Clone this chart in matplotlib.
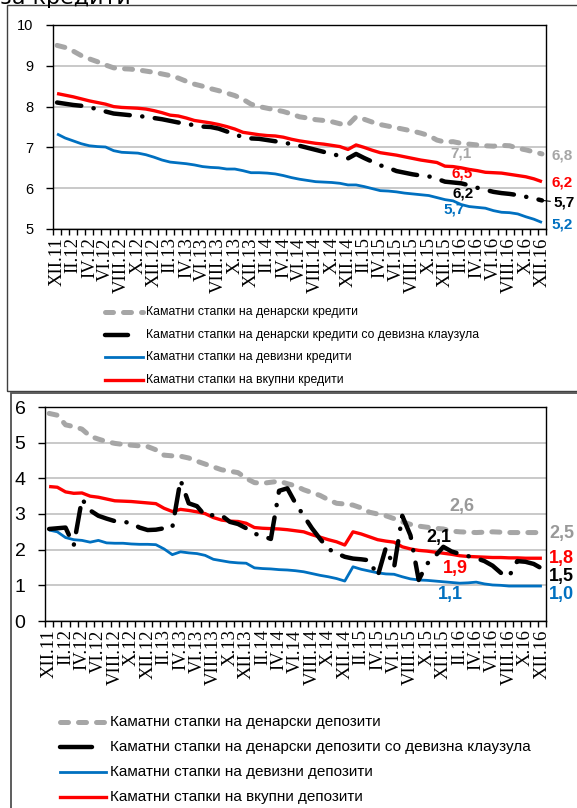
import matplotlib
matplotlib.use("Agg")
import matplotlib.pyplot as plt
from matplotlib.lines import Line2D
from matplotlib.patches import Rectangle
import numpy as np

W, H = 577, 808

tick_labels = ["XII.11", "II.12", "IV.12", "VI.12", "VIII.12", "X.12",
               "XII.12", "II.13", "IV.13", "VI.13", "VIII.13", "X.13",
               "XII.13", "II.14", "IV.14", "VI.14", "VIII.14", "X.14",
               "XII.14", "II.15", "IV.15", "VI.15", "VIII.15", "X.15",
               "XII.15", "II.16", "IV.16", "VI.16", "VIII.16", "X.16",
               "XII.16"]

# кредити (месечно XII.11 - XII.16)
cred_denar = [9.50, 9.45, 9.36, 9.25, 9.17, 9.10, 9.02, 8.95, 8.93, 8.92,
              8.90, 8.87, 8.84, 8.80, 8.76, 8.70, 8.62, 8.55, 8.50, 8.44,
              8.39, 8.33, 8.27, 8.18, 8.06, 8.00, 7.96, 7.92, 7.88, 7.82,
              7.75, 7.72, 7.68, 7.66, 7.63, 7.58, 7.55, 7.75, 7.69, 7.62,
              7.56, 7.52, 7.48, 7.44, 7.40, 7.35, 7.29, 7.18, 7.13, 7.14,
              7.10, 7.08, 7.06, 7.04, 7.03, 7.05, 7.04, 6.98, 6.94, 6.89,
              6.84]
cred_denar_fx = [8.10, 8.07, 8.04, 8.02, 7.98, 7.94, 7.88, 7.83, 7.81, 7.79,
                 7.77, 7.75, 7.72, 7.69, 7.65, 7.61, 7.58, 7.54, 7.51, 7.50,
                 7.46, 7.39, 7.32, 7.25, 7.22, 7.21, 7.18, 7.15, 7.12, 7.08,
                 7.04, 6.99, 6.94, 6.89, 6.84, 6.79, 6.73, 6.84, 6.74, 6.65,
                 6.56, 6.50, 6.42, 6.38, 6.34, 6.31, 6.29, 6.23, 6.16, 6.14,
                 6.12, 6.07, 6.01, 5.96, 5.91, 5.88, 5.86, 5.83, 5.79, 5.75,
                 5.70]
cred_fx = [7.33, 7.23, 7.16, 7.09, 7.04, 7.02, 7.01, 6.92, 6.88, 6.87,
           6.86, 6.82, 6.76, 6.69, 6.64, 6.62, 6.60, 6.57, 6.53, 6.51,
           6.50, 6.47, 6.47, 6.43, 6.38, 6.38, 6.37, 6.35, 6.31, 6.26,
           6.22, 6.19, 6.16, 6.15, 6.14, 6.12, 6.08, 6.08, 6.04, 5.99,
           5.94, 5.93, 5.91, 5.88, 5.86, 5.84, 5.82, 5.77, 5.72, 5.69,
           5.60, 5.55, 5.53, 5.51, 5.45, 5.41, 5.40, 5.37, 5.30, 5.24,
           5.16]
cred_total = [8.32, 8.28, 8.24, 8.19, 8.14, 8.10, 8.06, 8.00, 7.98, 7.97,
              7.96, 7.94, 7.90, 7.85, 7.79, 7.77, 7.72, 7.66, 7.63, 7.60,
              7.56, 7.51, 7.45, 7.37, 7.34, 7.31, 7.29, 7.28, 7.25, 7.20,
              7.16, 7.13, 7.10, 7.08, 7.05, 7.02, 6.95, 7.06, 7.00, 6.93,
              6.87, 6.84, 6.81, 6.77, 6.73, 6.69, 6.66, 6.63, 6.54, 6.53,
              6.50, 6.46, 6.43, 6.39, 6.38, 6.37, 6.34, 6.31, 6.28, 6.23,
              6.16]

# депозити
dep_denar = [5.82, 5.77, 5.50, 5.45, 5.38, 5.18, 5.10, 5.03, 4.98, 4.95,
             4.93, 4.91, 4.89, 4.80, 4.65, 4.63, 4.62, 4.57, 4.48, 4.40,
             4.32, 4.24, 4.20, 4.16, 4.00, 3.88, 3.86, 3.89, 3.92, 3.85,
             3.79, 3.68, 3.60, 3.52, 3.40, 3.30, 3.28, 3.25, 3.17, 3.05,
             3.00, 2.95, 2.87, 2.78, 2.71, 2.66, 2.63, 2.60, 2.58, 2.52,
             2.50, 2.49, 2.48, 2.49, 2.50, 2.49, 2.48, 2.48, 2.48, 2.48,
             2.48]
dep_denar_fx = [2.58, 2.60, 2.62, 2.12, 3.42, 3.10, 2.95, 2.87, 2.80, 2.78,
                2.75, 2.62, 2.55, 2.56, 2.60, 2.62, 3.95, 3.30, 3.22, 2.95,
                2.97, 2.96, 2.78, 2.72, 2.60, 2.45, 2.38, 2.30, 3.65, 3.72,
                3.30, 2.95, 2.60, 2.30, 2.02, 1.90, 1.80, 1.75, 1.73, 1.70,
                1.25, 2.05, 1.50, 2.95, 2.40, 1.15, 1.60, 1.82, 2.08, 1.95,
                1.88, 1.82, 1.76, 1.68, 1.55, 1.35, 1.25, 1.68, 1.66, 1.60,
                1.47]
dep_fx = [2.55, 2.50, 2.34, 2.28, 2.26, 2.21, 2.26, 2.19, 2.18, 2.18,
          2.16, 2.15, 2.15, 2.14, 2.02, 1.86, 1.94, 1.91, 1.89, 1.84,
          1.73, 1.69, 1.65, 1.63, 1.62, 1.49, 1.47, 1.46, 1.44, 1.43,
          1.41, 1.38, 1.33, 1.28, 1.24, 1.19, 1.12, 1.52, 1.45, 1.40,
          1.35, 1.32, 1.31, 1.24, 1.18, 1.15, 1.14, 1.12, 1.10, 1.08,
          1.06, 1.07, 1.09, 1.04, 1.01, 1.00, 0.98, 0.98, 0.98, 0.98,
          0.98]
dep_total = [3.77, 3.75, 3.62, 3.58, 3.59, 3.50, 3.47, 3.42, 3.37, 3.36,
             3.35, 3.33, 3.31, 3.29, 3.16, 3.07, 3.13, 3.10, 3.06, 3.01,
             2.90, 2.83, 2.80, 2.79, 2.74, 2.62, 2.60, 2.59, 2.58, 2.56,
             2.53, 2.50, 2.42, 2.35, 2.28, 2.22, 2.13, 2.50, 2.44, 2.36,
             2.28, 2.24, 2.21, 2.08, 2.02, 1.98, 1.96, 1.93, 1.90, 1.87,
             1.83, 1.81, 1.80, 1.79, 1.78, 1.78, 1.77, 1.77, 1.76, 1.76,
             1.76]

cred_names = ["Каматни стапки на денарски кредити",
              "Каматни стапки на денарски кредити со девизна клаузула",
              "Каматни стапки на девизни кредити",
              "Каматни стапки на вкупни кредити"]
dep_names = ["Каматни стапки на денарски депозити",
             "Каматни стапки на денарски депозити со девизна клаузула",
             "Каматни стапки на девизни депозити",
             "Каматни стапки на вкупни депозити"]

GRAY, BLUE, RED = "#A6A6A6", "#0070C0", "#FF0000"
styles = [
    dict(color=GRAY, lw=3.6, ls=(0, (1.6, 2.0)), dash_capstyle="round", zorder=3),
    dict(color="black", lw=3.2, ls=(0, (5.5, 2.8, 0.05, 2.8)), dash_capstyle="round", zorder=6),
    dict(color=BLUE, lw=2.0, ls="-", zorder=4),
    dict(color=RED, lw=2.4, ls="-", zorder=5),
]


def fx(px):
    return px / W


def fy(py):
    return 1 - py / H


fig = plt.figure(figsize=(W / 100, H / 100), dpi=100)

# рамки
fig.add_artist(Rectangle((fx(7), fy(391)), 1, fy(5) - fy(391), transform=fig.transFigure,
                         fill=False, ec="#404040", lw=1.0))
fig.add_artist(Rectangle((fx(11), -0.1), 1, fy(393) + 0.1, transform=fig.transFigure,
                         fill=False, ec="#505050", lw=1.3))
fig.text(0.0, fy(4), "за кредити", fontsize=16, va="baseline", ha="left")

ax1 = fig.add_axes([fx(53), fy(229), (546 - 53) / W, (229 - 25) / H])
ax2 = fig.add_axes([fx(45), fy(621), (546 - 45) / W, (621 - 407) / H])

x = np.arange(len(cred_denar))


def setup(ax, ylim, ysize, ypad, xsize):
    ax.set_xlim(-0.5, 60.5)
    ax.set_ylim(*ylim)
    ax.set_yticks(np.arange(ylim[0], ylim[1] + 1))
    ax.tick_params(axis="y", length=5, width=1, pad=ypad, labelsize=ysize)
    for lb in ax.get_yticklabels():
        lb.set_fontfamily("Liberation Sans")
    ax.set_xticks(np.arange(0, 61, 2))
    ax.set_xticklabels(tick_labels, rotation=90, fontfamily="Liberation Serif", fontsize=xsize)
    ax.set_xticks(np.arange(-0.5, 61, 1), minor=True)
    ax.tick_params(axis="x", which="major", length=0, pad=6)
    ax.tick_params(axis="x", which="minor", length=4, width=1)
    ax.yaxis.grid(True, color="#C0C0C0", lw=1.2)
    ax.set_axisbelow(True)
    for s in ax.spines.values():
        s.set_color("black")
        s.set_linewidth(1.0)


setup(ax1, (5, 10), 10.5, 9, 13.5)
setup(ax2, (0, 6), 14, 9, 13.5)

for data, st in zip([cred_denar, cred_denar_fx, cred_fx, cred_total], styles):
    ax1.plot(x, data, solid_capstyle="butt", **st)
for data, st in zip([dep_denar, dep_denar_fx, dep_fx, dep_total], styles):
    ax2.plot(x, data, solid_capstyle="butt", **st)

# ознаки на вредности
lab = dict(fontfamily="Liberation Sans", fontweight="bold", ha="center", va="center", clip_on=False)
ax1.text(50.0, 6.86, "7,1", color=GRAY, fontsize=11, **lab)
ax1.text(50.1, 6.35, "6,5", color=RED, fontsize=11, **lab)
ax1.text(50.2, 5.88, "6,2", color="black", fontsize=11, **lab)
ax1.text(49.1, 5.49, "5,7", color=BLUE, fontsize=11, **lab)
ax1.text(62.5, 6.81, "6,8", color=GRAY, fontsize=11, **lab)
ax1.text(62.5, 6.15, "6,2", color=RED, fontsize=11, **lab)
ax1.annotate("5,7", xy=(60.1, cred_denar_fx[-1]), xytext=(62.7, 5.64), color="black",
             fontsize=11, arrowprops=dict(arrowstyle="-", color="black", lw=0.8,
                                          shrinkA=0, shrinkB=0), **lab)
ax1.text(62.5, 5.12, "5,2", color=BLUE, fontsize=11, **lab)

ax2.text(50.2, 3.20, "2,6", color="#999999", fontsize=13, **lab)
ax2.text(47.5, 2.35, "2,1", color="black", fontsize=13, **lab)
ax2.text(49.5, 1.46, "1,9", color=RED, fontsize=13, **lab)
ax2.text(48.8, 0.73, "1,1", color=BLUE, fontsize=13, **lab)
ax2.text(62.4, 2.44, "2,5", color="#999999", fontsize=13, **lab)
ax2.text(62.4, 1.74, "1,8", color=RED, fontsize=13, **lab)
ax2.text(62.4, 1.26, "1,5", color="black", fontsize=13, **lab)
ax2.text(62.4, 0.73, "1,0", color=BLUE, fontsize=13, **lab)


def legend(names, ys, x0, x1, xblack, xt, size):
    for k, (name, y, st) in enumerate(zip(names, ys, styles)):
        kw = {kk: v for kk, v in st.items() if kk != "zorder"}
        xe = x1
        if k == 1:  # во легендата се гледа само една црта
            kw["ls"] = "-"
            kw["solid_capstyle"] = "round"
            xe = xblack
        fig.add_artist(Line2D([fx(x0), fx(xe)], [fy(y), fy(y)], transform=fig.transFigure, **kw))
        fig.text(fx(xt), fy(y), name, fontsize=size, va="center", ha="left",
                 fontfamily="Liberation Sans")


legend(cred_names, [312, 335, 357, 380], 105, 143, 128, 146, 8.8)
legend(dep_names, [722, 747, 772, 797], 60, 106, 92, 110, 11)

fig.savefig("out.png", dpi=100)
